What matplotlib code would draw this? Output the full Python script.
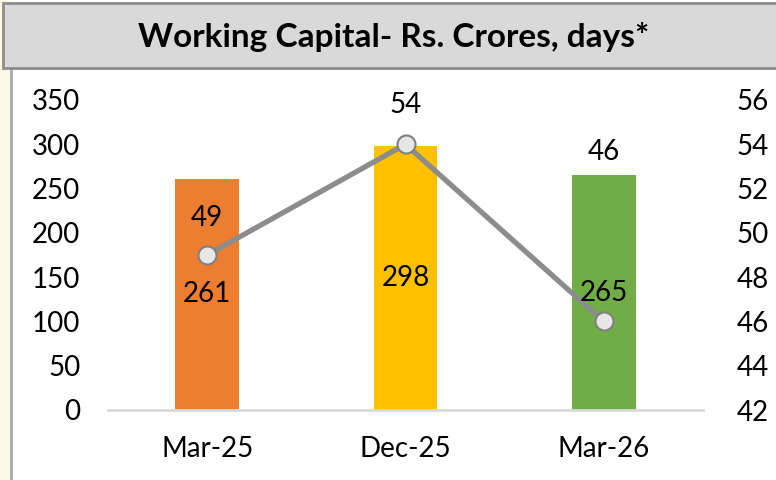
import matplotlib.pyplot as plt
from matplotlib.patches import Rectangle

categories = ["Mar-25", "Dec-25", "Mar-26"]
capital = [261, 298, 265]
days = [49, 54, 46]
bar_colors = ["#ED7D31", "#FFC000", "#70AD47"]

plt.rcParams['font.family'] = ['Lato', 'DejaVu Sans']

W, H = 776, 480
fig = plt.figure(figsize=(W / 100, H / 100), dpi=100)
fig.patch.set_facecolor("white")

# faint cream strip at the left edge, outside the chart frame
fig.patches.append(Rectangle((0, 0), 10 / W, 1, transform=fig.transFigure,
                             facecolor="#fcfae6", edgecolor="none", zorder=0))
# chart frame left edge
fig.lines.append(plt.Line2D([11 / W, 11 / W], [0, (H - 66) / H], transform=fig.transFigure,
                            color="#a6a6a6", lw=2, zorder=1))
# title box
fig.patches.append(Rectangle((3 / W, (H - 68) / H), (W - 2) / W, 65 / H, transform=fig.transFigure,
                             facecolor="#d9d9d9", edgecolor="#8c8c8c", lw=2, zorder=2))
fig.text(394 / W, (H - 37) / H, "Working Capital- Rs. Crores, days*", ha="center", va="center",
         fontsize=24, fontweight="bold", color="black")

ax = fig.add_axes([108 / W, (H - 410) / H, (703 - 108) / W, 310 / H])
ax.set_facecolor("none")
x = list(range(len(categories)))
bars = ax.bar(x, capital, width=0.32, color=bar_colors, zorder=2)
ax.set_xlim(-0.5, 2.5)
ax.set_ylim(0, 350)
ax.set_yticks(range(0, 351, 50))
ax.set_xticks(x)
ax.set_xticklabels(categories)
for s in ["top", "right", "left"]:
    ax.spines[s].set_visible(False)
ax.spines["bottom"].set_color("#d9d9d9")
ax.spines["bottom"].set_linewidth(2)
ax.tick_params(axis="both", length=0, labelsize=20)
ax.tick_params(axis="x", pad=19)
ax.tick_params(axis="y", pad=20)

ax2 = ax.twinx()
ax2.set_ylim(42, 56)
ax2.set_yticks(range(42, 57, 2))
for s in ax2.spines.values():
    s.set_visible(False)
ax2.tick_params(axis="y", length=0, labelsize=20, pad=24)
ax2.plot(x, days, color="#8c8c8c", lw=3.8, marker="o", markersize=13,
         markerfacecolor="#e6e6e6", markeredgecolor="#7f7f7f", markeredgewidth=1.5, zorder=3)

for xi, v in zip(x, capital):
    ax2.annotate(str(v), xy=(xi, 42 + v / 350 * 14 / 2), ha="center", va="center",
                 fontsize=20, zorder=5)
offsets = [37, 39, 169]
for xi, v, off in zip(x, days, offsets):
    ax2.annotate(str(v), xy=(xi, v), xytext=(0, off * 0.72), textcoords="offset points",
                 ha="center", va="center", fontsize=20, zorder=5)

fig.savefig("out.png", dpi=100)
